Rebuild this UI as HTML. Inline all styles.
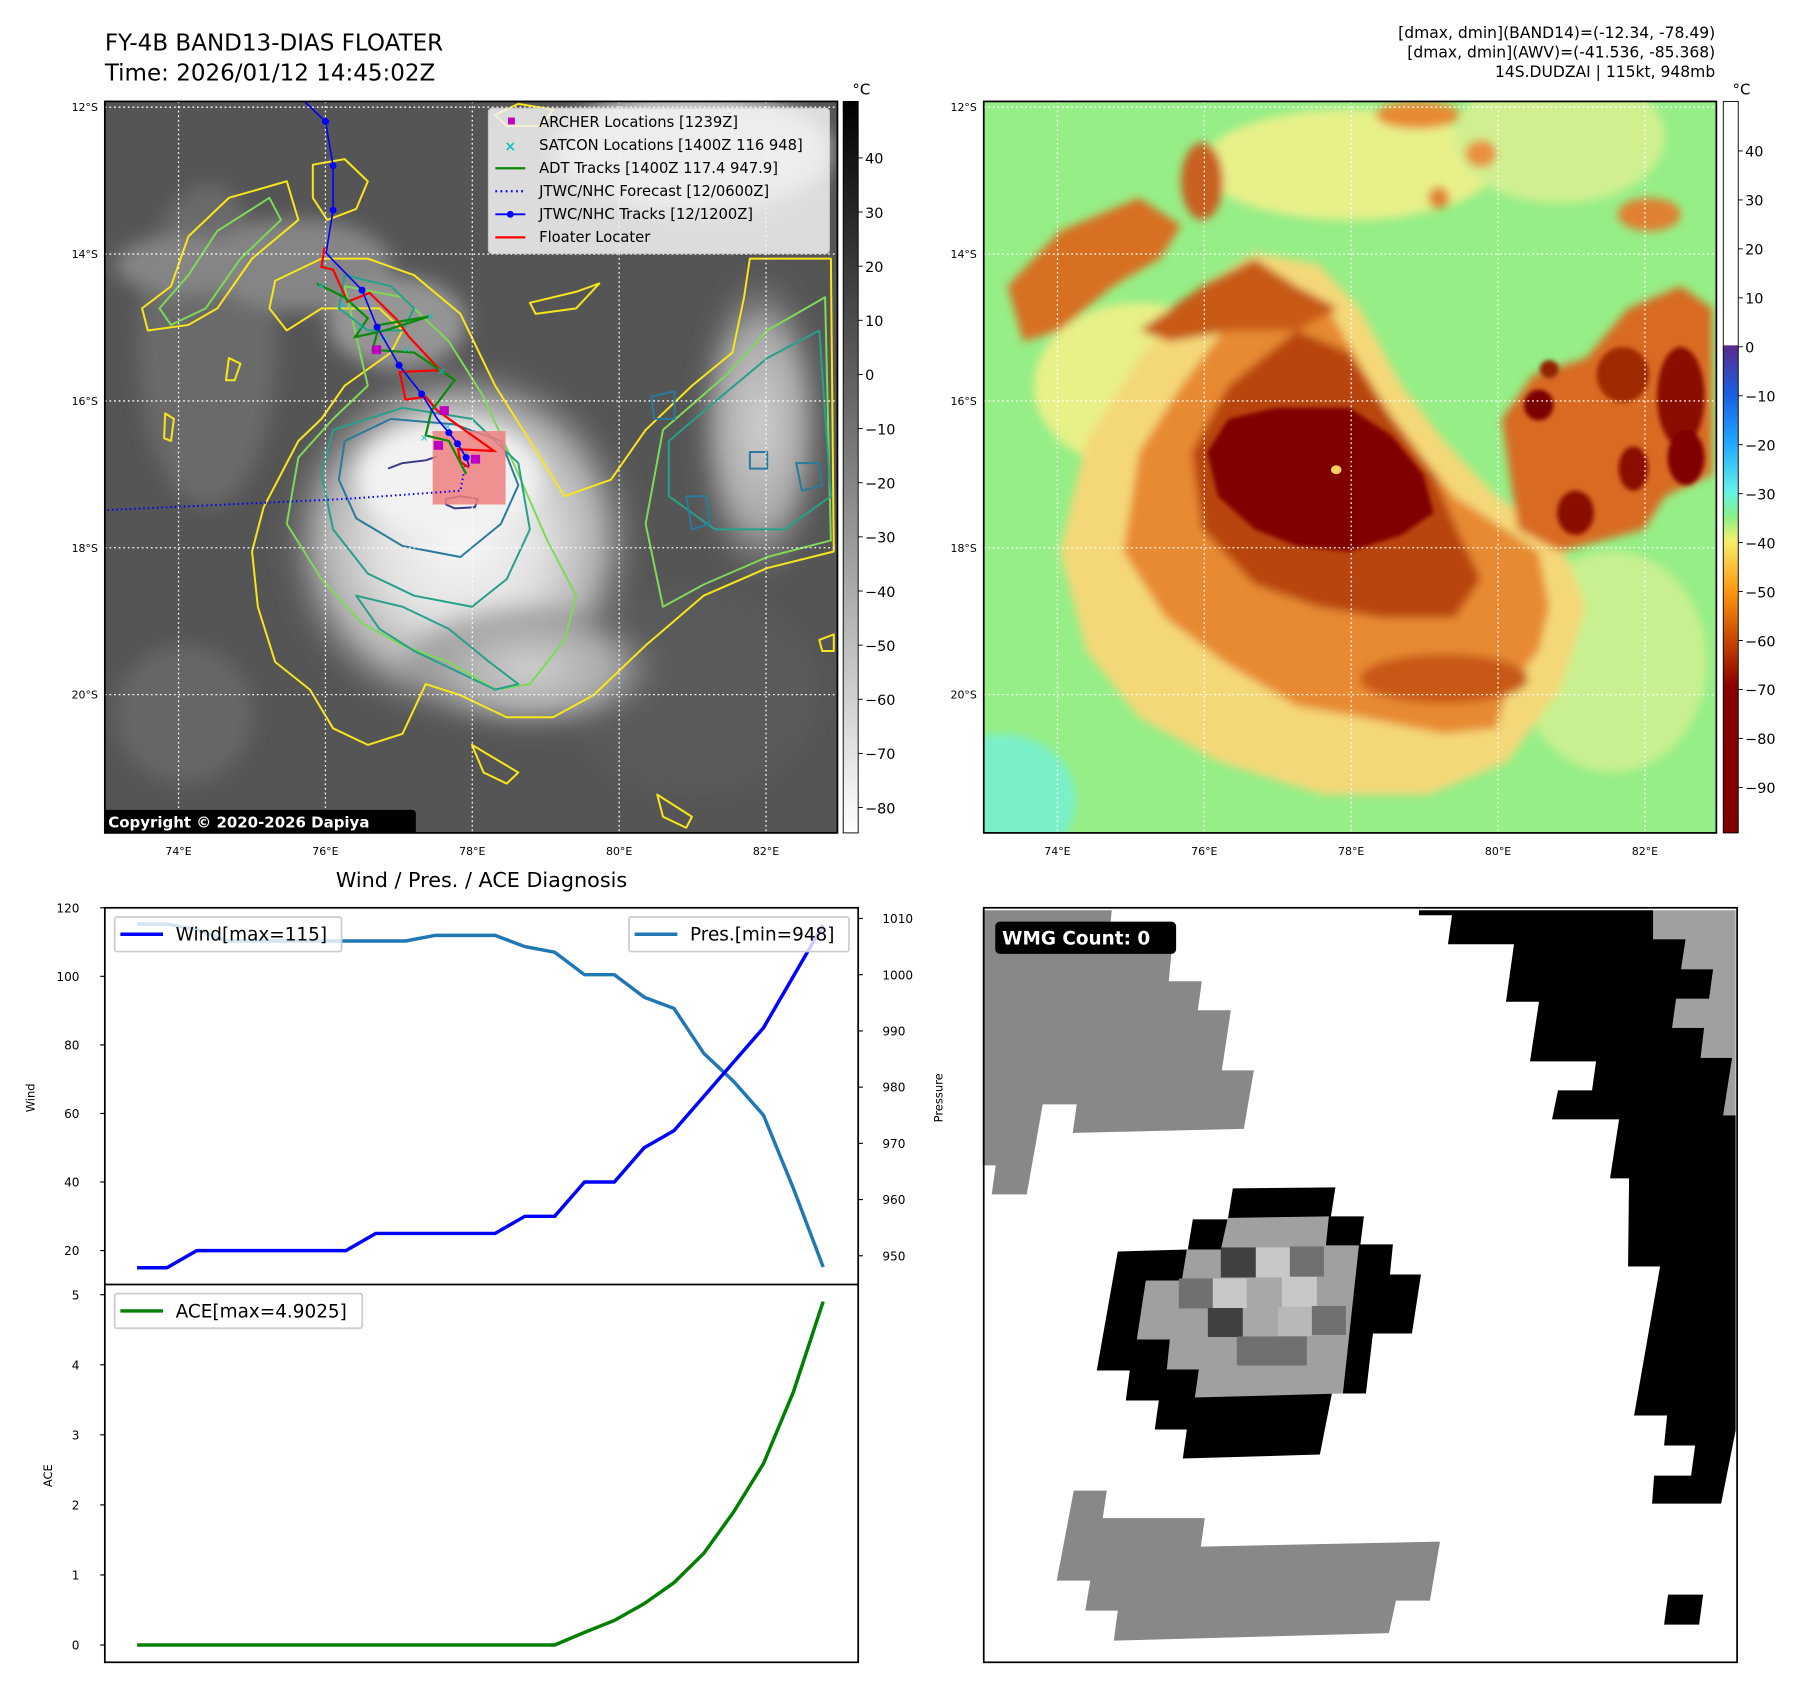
<!DOCTYPE html>
<html><head><meta charset="utf-8">
<style>
html,body{margin:0;padding:0;background:#fff;}
svg{display:block;font-family:"DejaVu Sans","Liberation Sans",sans-serif;}
.tk{font-size:10.5px;fill:#000;}
.ml{font-size:9.5px;fill:#000;}
</style></head>
<body>
<svg id="root" width="1797" height="1690" viewBox="0 0 1560 1467" xmlns="http://www.w3.org/2000/svg">
<defs>
  <radialGradient id="cyc" cx="0.5" cy="0.5" r="0.5">
    <stop offset="0" stop-color="#f8f8f8"/>
    <stop offset="0.45" stop-color="#e0e0e0"/>
    <stop offset="0.75" stop-color="#b0b0b0"/>
    <stop offset="1" stop-color="#6a6a6a" stop-opacity="0"/>
  </radialGradient>
  <radialGradient id="band" cx="0.5" cy="0.5" r="0.5">
    <stop offset="0" stop-color="#d0d0d0"/>
    <stop offset="0.6" stop-color="#a8a8a8"/>
    <stop offset="1" stop-color="#6a6a6a" stop-opacity="0"/>
  </radialGradient>
  <linearGradient id="cbL" x1="0" y1="1" x2="0" y2="0">
    <stop offset="0" stop-color="#ffffff"/>
    <stop offset="1" stop-color="#000000"/>
  </linearGradient>
  <linearGradient id="cbR" x1="0" y1="0" x2="0" y2="1">
    <stop offset="0" stop-color="#ffffff"/>
    <stop offset="0.333" stop-color="#ffffff"/>
    <stop offset="0.334" stop-color="#5a2a8a"/>
    <stop offset="0.40" stop-color="#1a5ee0"/>
    <stop offset="0.467" stop-color="#20a8ff"/>
    <stop offset="0.534" stop-color="#66f2e8"/>
    <stop offset="0.567" stop-color="#88f088"/>
    <stop offset="0.60" stop-color="#f4f070"/>
    <stop offset="0.667" stop-color="#ff9a10"/>
    <stop offset="0.734" stop-color="#c84a00"/>
    <stop offset="0.80" stop-color="#880000"/>
    <stop offset="1" stop-color="#800000"/>
  </linearGradient>
  <filter id="blur4"><feGaussianBlur stdDeviation="4"/></filter>
  <filter id="blur8"><feGaussianBlur stdDeviation="8"/></filter>
  <clipPath id="clipL"><rect x="91" y="88" width="636" height="635"/></clipPath>
  <clipPath id="clipR"><rect x="854" y="88" width="636" height="635"/></clipPath>
</defs>

<!-- Titles -->
<text x="91" y="44" font-size="20">FY-4B BAND13-DIAS FLOATER</text>
<text x="91" y="70" font-size="20">Time: 2026/01/12 14:45:02Z</text>
<g font-size="13.5" text-anchor="end">
  <text x="1489" y="33">[dmax, dmin](BAND14)=(-12.34, -78.49)</text>
  <text x="1489" y="50">[dmax, dmin](AWV)=(-41.536, -85.368)</text>
  <text x="1489" y="67">14S.DUDZAI | 115kt, 948mb</text>
</g>

<!-- LEFT MAP -->
<g id="leftmap" clip-path="url(#clipL)">
  <rect x="91" y="88" width="636" height="635" fill="#555"/>
  <g filter="url(#blur8)">
    <ellipse cx="180" cy="300" rx="60" ry="140" fill="#6a6a6a"/>
    <ellipse cx="620" cy="150" rx="100" ry="50" fill="#666"/>
    <ellipse cx="600" cy="600" rx="110" ry="90" fill="#5a5a5a"/>
    <ellipse cx="160" cy="620" rx="60" ry="60" fill="#666"/>
    <ellipse cx="260" cy="230" rx="80" ry="40" fill="#858585"/>
    <ellipse cx="160" cy="230" rx="60" ry="25" fill="#858585"/>
    <ellipse cx="345" cy="280" rx="60" ry="40" fill="#959595"/>
    <ellipse cx="400" cy="470" rx="160" ry="160" fill="url(#cyc)"/>
    <ellipse cx="460" cy="580" rx="120" ry="60" fill="url(#band)"/>
    <ellipse cx="660" cy="370" rx="60" ry="140" fill="url(#band)"/>
    <ellipse cx="390" cy="415" rx="80" ry="50" fill="#f2f2f2"/>
    <ellipse cx="600" cy="130" rx="120" ry="50" fill="#c8c8c8"/>
  </g>
  <g transform="translate(-2.3,-1) scale(0.5025,0.4797)" fill="none" stroke-width="2" stroke-linejoin="round">
    <g stroke="#f8e51c">
      <path vector-effect="non-scaling-stroke" d="M560,470 L640,470 720,500 800,570 860,700 920,800 980,900 1060,870 1120,780 1200,700 1270,640 1290,540 1300,470 1440,470 1445,1000 1330,1030 1220,1080 1120,1170 1030,1260 960,1300 880,1300 800,1260 740,1240 700,1330 640,1350 580,1320 540,1250 480,1200 450,1100 440,1000 460,920 520,800 560,760 600,700 680,640 700,600 660,560 610,560 560,560 500,600 470,560 480,510 Z"/>
      <path vector-effect="non-scaling-stroke" d="M250,560 L300,520 330,430 400,360 500,330 520,400 440,470 380,560 330,590 260,600 Z"/>
      <path vector-effect="non-scaling-stroke" d="M545,300 L600,290 640,330 620,380 570,400 545,360 Z"/>
      <path vector-effect="non-scaling-stroke" d="M400,650 L420,660 410,690 395,690 Z M290,750 L305,760 300,800 288,795 Z M820,1350 L900,1400 880,1420 840,1400 Z M1140,1440 L1200,1480 1190,1500 1150,1480 Z M920,550 L1000,530 1040,515 1000,560 930,570 Z M1420,1160 L1445,1150 1445,1180 1425,1180 Z M860,210 L900,190 960,200 940,230 880,230 Z"/>
    </g>
    <g stroke="#7ed957">
      <path vector-effect="non-scaling-stroke" d="M600,520 L700,540 780,620 840,720 900,860 950,980 1000,1080 980,1160 920,1240 860,1250 780,1200 700,1170 630,1130 560,1050 500,950 520,830 580,760 640,700 Z"/>
      <path vector-effect="non-scaling-stroke" d="M1150,780 L1260,680 1330,600 1430,540 1440,980 1330,1010 1220,1060 1150,1100 1120,950 Z"/>
      <path vector-effect="non-scaling-stroke" d="M280,560 L330,500 380,420 470,360 490,400 420,470 360,560 300,590 Z"/>
    </g>
    <g stroke="#27a08a">
      <path vector-effect="non-scaling-stroke" d="M580,780 L700,740 820,760 900,840 920,960 880,1050 820,1100 720,1080 640,1040 580,960 560,860 Z"/>
      <path vector-effect="non-scaling-stroke" d="M620,1080 L700,1100 780,1140 850,1200 900,1240 860,1250 800,1220 720,1180 660,1140 Z"/>
      <path vector-effect="non-scaling-stroke" d="M1160,800 L1250,720 1330,650 1420,600 1440,900 1360,960 1240,960 1160,900 Z"/>
      <path vector-effect="non-scaling-stroke" d="M600,500 L680,520 720,560 700,600 640,600 590,560 Z"/>
    </g>
    <g stroke="#2a7a9a">
      <path vector-effect="non-scaling-stroke" d="M600,800 L680,760 790,770 870,800 900,880 870,950 800,1010 700,990 620,940 590,870 Z"/>
      <path vector-effect="non-scaling-stroke" d="M1190,900 L1225,900 1230,950 1200,960 Z M1380,840 L1420,840 1425,880 1390,890 Z M1300,820 L1330,820 1330,850 1300,850 Z M1130,720 L1170,710 1170,760 1135,760 Z"/>
    </g>
    <g stroke="#3b3b8a">
      <path vector-effect="non-scaling-stroke" d="M675,850 L700,840 740,835 760,828 M775,905 L800,900 830,905 825,920 790,922 775,915 Z"/>
    </g>
  </g>
  <g id="gridL" stroke="#fff" stroke-width="1.1" stroke-dasharray="1.5,2.5"></g>
  <g transform="translate(-2.3,-1) scale(0.5025,0.4797)">
    <rect x="752" y="782" width="126" height="133" fill="#f08080" opacity="0.85"/>
    <polyline vector-effect="non-scaling-stroke" fill="none" stroke="#0000ff" stroke-width="2" stroke-dasharray="1.5,3" points="190,925 600,905 800,890 808,845"/>
    <polyline vector-effect="non-scaling-stroke" fill="none" stroke="#ff0000" stroke-width="2.2" points="565,450 560,485 580,490 605,548 643,532 690,580 710,610 765,672 695,675 705,725 740,720 760,745 858,818 796,815 800,838 815,848"/>
    <polyline vector-effect="non-scaling-stroke" fill="none" stroke="#0a8a0a" stroke-width="2.2" points="552,515 600,540 640,578 618,612 670,600 745,575 660,590 648,635 720,640 790,690 750,745 740,790 780,800 800,840 810,860"/>
    <g fill="#10c0c0" font-size="18">
      <text x="552" y="525">×</text><text x="590" y="560">×</text><text x="620" y="600">×</text><text x="660" y="620">×</text><text x="700" y="640">×</text><text x="740" y="580">×</text><text x="760" y="680">×</text><text x="730" y="800">×</text><text x="770" y="780">×</text><text x="800" y="830">×</text>
    </g>
    <g fill="#c000c0">
      <rect x="647" y="627" width="16" height="16"/><rect x="764" y="737" width="16" height="16"/><rect x="754" y="800" width="16" height="16"/><rect x="818" y="825" width="16" height="16"/>
    </g>
    <polyline vector-effect="non-scaling-stroke" fill="none" stroke="#0000ff" stroke-width="1.6" points="530,185 567,222 580,302 580,382 568,460 630,527 656,594 694,663 733,715 760,760 780,785 795,805 810,830 815,845"/>
    <g fill="#0000ff">
      <ellipse cx="567" cy="222" rx="6" ry="6.3"/><ellipse cx="580" cy="302" rx="6" ry="6.3"/><ellipse cx="580" cy="382" rx="6" ry="6.3"/><ellipse cx="630" cy="527" rx="6" ry="6.3"/><ellipse cx="656" cy="594" rx="6" ry="6.3"/><ellipse cx="694" cy="663" rx="6" ry="6.3"/><ellipse cx="733" cy="715" rx="6" ry="6.3"/><ellipse cx="780" cy="785" rx="6" ry="6.3"/><ellipse cx="795" cy="805" rx="6" ry="6.3"/><ellipse cx="810" cy="830" rx="6" ry="6.3"/>
    </g>
  </g>
  <g>
    <rect x="424" y="94" width="296" height="126" rx="3" fill="#f4f4f4" opacity="0.85" stroke="#ddd"/>
    <g font-size="12.8" fill="#000">
      <rect x="441" y="102" width="6" height="6" fill="#c000c0"/><text x="468" y="110">ARCHER Locations [1239Z]</text>
      <text x="438" y="131" fill="#10c0c0" font-size="12" font-weight="bold">×</text><text x="468" y="130">SATCON Locations [1400Z 116 948]</text>
      <line x1="430" y1="146" x2="456" y2="146" stroke="#0a8a0a" stroke-width="2"/><text x="468" y="150">ADT Tracks [1400Z 117.4 947.9]</text>
      <line x1="430" y1="166" x2="456" y2="166" stroke="#0000ff" stroke-width="2" stroke-dasharray="1.5,3"/><text x="468" y="170">JTWC/NHC Forecast [12/0600Z]</text>
      <line x1="430" y1="186" x2="456" y2="186" stroke="#0000ff" stroke-width="1.6"/><circle cx="443" cy="186" r="3" fill="#0000ff"/><text x="468" y="190">JTWC/NHC Tracks [12/1200Z]</text>
      <line x1="430" y1="206" x2="456" y2="206" stroke="#ff0000" stroke-width="2"/><text x="468" y="210">Floater Locater</text>
    </g>
  </g>
  <g>
    <rect x="89" y="703" width="272" height="21" rx="3" fill="#000"/>
    <text x="94" y="718.5" font-size="13" font-weight="bold" fill="#fff">Copyright © 2020-2026 Dapiya</text>
  </g>
</g>
<rect x="91" y="88" width="636" height="635" fill="none" stroke="#000" stroke-width="1.5"/>

<!-- RIGHT MAP -->
<g id="rightmap" clip-path="url(#clipR)">
  <rect x="854" y="88" width="636" height="635" fill="#96ee86"/>
  <g transform="translate(851.8,-1) scale(0.4566,0.4797)">
    <g filter="url(#blur8)">
      <ellipse cx="40" cy="1450" rx="140" ry="120" fill="#7af0c8"/>
      <ellipse cx="700" cy="300" rx="280" ry="100" fill="#e8f08a"/>
      <ellipse cx="1100" cy="250" rx="200" ry="120" fill="#d0f090"/>
      <ellipse cx="300" cy="700" rx="200" ry="150" fill="#e8f088"/>
      <ellipse cx="1200" cy="1200" rx="180" ry="200" fill="#c8f090"/>
      <path d="M150,1000 L200,800 300,650 420,520 520,460 640,480 720,560 800,700 880,800 980,900 1100,980 1150,1100 1100,1250 1000,1380 850,1440 650,1440 450,1380 300,1300 200,1180 Z" fill="#f4d878"/>
      <path d="M270,1000 L300,820 380,700 460,600 500,480 560,500 660,560 720,660 770,740 840,830 900,900 980,950 1060,1000 1080,1100 1060,1180 1000,1250 980,1320 880,1330 720,1300 600,1280 460,1200 350,1120 Z" fill="#e88a30"/>
      <path d="M990,760 L1050,680 1150,650 1230,560 1330,520 1390,560 1390,860 1300,900 1260,960 1180,980 1100,1000 1020,960 Z" fill="#d86a20"/>
      <path d="M50,520 L150,420 300,360 380,410 340,470 250,520 150,600 80,620 Z" fill="#d87020"/>
      <path d="M300,600 L420,520 520,470 600,520 680,560 600,600 480,600 360,620 Z" fill="#c85a18"/>
      <path d="M400,820 L470,700 600,600 700,640 780,760 860,860 900,950 950,1050 900,1120 760,1120 640,1100 520,1060 420,960 Z" fill="#b84410"/>
      <ellipse cx="420" cy="330" rx="40" ry="70" fill="#c86020"/>
      <ellipse cx="830" cy="210" rx="80" ry="25" fill="#e88a30"/>
      <ellipse cx="950" cy="280" rx="30" ry="25" fill="#e89040"/>
      <ellipse cx="1270" cy="390" rx="60" ry="30" fill="#e08030"/>
      <ellipse cx="870" cy="360" rx="20" ry="20" fill="#e08030"/>
      <ellipse cx="880" cy="1230" rx="160" ry="45" fill="#c85818"/>
    </g>
    <g filter="url(#blur4)">
      <path d="M430,820 L470,760 560,740 700,740 780,790 840,860 860,930 800,970 700,1000 600,990 520,960 450,900 Z" fill="#800000"/>
      <ellipse cx="1060" cy="735" rx="28" ry="28" fill="#7a0000"/>
      <ellipse cx="1330" cy="720" rx="45" ry="90" fill="#8a0a00"/>
      <ellipse cx="1340" cy="830" rx="35" ry="50" fill="#800000"/>
      <ellipse cx="1240" cy="850" rx="28" ry="40" fill="#8a0a00"/>
      <ellipse cx="1130" cy="930" rx="35" ry="40" fill="#8a1000"/>
      <ellipse cx="1220" cy="680" rx="50" ry="50" fill="#a02a00"/>
      <ellipse cx="1080" cy="670" rx="18" ry="16" fill="#902000"/>
    </g>
    <ellipse cx="675" cy="852" rx="10" ry="8" fill="#f8d060"/>
  </g>
  <g id="gridR" stroke="#fff" stroke-width="1.1" stroke-dasharray="1.5,2.5"></g>
</g>
<rect x="854" y="88" width="636" height="635" fill="none" stroke="#000" stroke-width="1.5"/>

<!-- Colorbars -->
<rect x="732" y="88" width="13" height="635" fill="url(#cbL)" stroke="#000" stroke-width="0.8"/>
<rect x="1496" y="88" width="13" height="635" fill="url(#cbR)" stroke="#000" stroke-width="0.8"/>
<text x="740" y="82" font-size="13">°C</text>
<text x="1504" y="82" font-size="13">°C</text>
<g id="cbticks"></g>
<g id="maplabels"></g>

<!-- Bottom-left chart -->
<text x="418" y="770" font-size="18" text-anchor="middle">Wind / Pres. / ACE Diagnosis</text>
<g id="chart"></g>

<!-- Bottom-right WMG -->
<g>
  <rect x="854" y="788" width="654" height="655" fill="#fff"/>
  <g transform="translate(853.1,785.8) scale(0.4343)">
    <path d="M0,10 L258,10 255,40 382,40 372,152 438,152 430,210 496,210 478,330 542,330 522,447 180,455 188,398 120,398 88,578 18,578 26,520 0,520 Z" fill="#888"/>
    <path d="M1340,10 L1505,10 1505,420 1480,420 1498,305 1435,305 1442,245 1378,245 1386,187 1452,187 1460,128 1396,128 1405,68 1340,68 Z" fill="#a0a0a0"/>
    <path d="M872,10 L1340,10 1340,68 1405,68 1396,128 1460,128 1452,187 1386,187 1378,245 1442,245 1435,305 1498,305 1480,420 1505,420 1505,1050 1476,1196 1338,1196 1342,1140 1416,1140 1424,1080 1362,1080 1368,1020 1302,1020 1354,722 1290,722 1292,546 1254,546 1272,428 1138,428 1150,370 1218,370 1226,312 1094,312 1112,193 1046,193 1062,78 930,78 938,20 872,20 Z" fill="#000"/>
    <path d="M1370,1378 L1440,1378 1432,1438 1362,1438 Z" fill="#000"/>
    <path d="M182,1170 L248,1170 240,1225 444,1225 436,1282 914,1272 894,1390 826,1390 812,1455 262,1470 270,1410 205,1410 215,1350 148,1350 Z" fill="#888"/>
    <path d="M500,566 L705,564 696,622 762,622 755,678 820,678 814,738 876,738 858,856 780,856 766,976 698,976 674,1098 400,1106 408,1048 344,1048 352,990 286,990 294,930 228,930 270,692 410,688 420,628 490,628 Z" fill="#000"/>
    <path d="M490,625 L692,622 686,680 752,680 720,976 424,984 432,928 368,928 374,868 308,868 326,750 398,750 408,688 476,688 Z" fill="#a0a0a0"/>
    <g>
      <rect x="476" y="684" width="70" height="60" fill="#404040"/>
      <rect x="546" y="684" width="68" height="60" fill="#c8c8c8"/>
      <rect x="614" y="682" width="68" height="60" fill="#707070"/>
      <rect x="392" y="746" width="68" height="60" fill="#707070"/>
      <rect x="460" y="746" width="68" height="60" fill="#c8c8c8"/>
      <rect x="528" y="745" width="70" height="60" fill="#a8a8a8"/>
      <rect x="598" y="743" width="70" height="60" fill="#c8c8c8"/>
      <rect x="450" y="805" width="70" height="58" fill="#404040"/>
      <rect x="520" y="805" width="70" height="58" fill="#a8a8a8"/>
      <rect x="590" y="803" width="68" height="58" fill="#b8b8b8"/>
      <rect x="658" y="801" width="68" height="58" fill="#707070"/>
      <rect x="508" y="862" width="140" height="58" fill="#707070"/>
    </g>
  </g>
  <rect x="854" y="788" width="654" height="655" fill="none" stroke="#000" stroke-width="1.5"/>
  <rect x="864" y="800" width="157" height="28" rx="4" fill="#000"/>
  <text x="870" y="820" font-size="16" font-weight="bold" fill="#fff">WMG Count: 0</text>
</g>

<script>
// ---- Chart data ----
const steps = [0,1,2,3,4,5,6,7,8,9,10,11,12,13,14,15,16,17,18,19,20,21,22,23];
const windValues = [15,15,20,20,20,20,20,20,25,25,25,25,25,30,30,40,40,50,55,65,75,85,100,115];
const pressureValues = [1009,1009,1008,1006,1006,1006,1006,1006,1006,1006,1007,1007,1007,1005,1004,1000,1000,996,994,986,981,975,962,948];
const aceValues = [0,0,0,0,0,0,0,0,0,0,0,0,0,0,0,0.18,0.35,0.59,0.89,1.31,1.90,2.59,3.61,4.9025];
const windTicks = [20,40,60,80,100,120];
const pressureTicks = [950,960,970,980,990,1000,1010];
const aceTicks = [0,1,2,3,4,5];
const lonTicks = [74,76,78,80,82];
const latTicks = [12,14,16,18,20];
const irBarTicks = [40,30,20,10,0,-10,-20,-30,-40,-50,-60,-70,-80];
const awvBarTicks = [40,30,20,10,0,-10,-20,-30,-40,-50,-60,-70,-80,-90];

const NS = 'http://www.w3.org/2000/svg';
function mk(tag, attrs, parent){const e=document.createElementNS(NS,tag);for(const k in attrs)e.setAttribute(k,attrs[k]);parent.appendChild(e);return e;}

const xStep = i => 119 + i*(595.6/23);
const yWind = w => 788 + (120-w)*2.976;
const yPres = p => 797.3 + (1010-p)*4.88;
const yAce = a => 1428 + (0 - a)*((1428-1123.9)/5);
const lonX = lon => 155 + (lon-74)*63.75;
const latY = lat => 93 + (lat-12)*63.75;

const gL=document.getElementById('gridL'), gR=document.getElementById('gridR'), ml=document.getElementById('maplabels');
[[gL,0],[gR,763]].forEach(([g,off])=>{
  lonTicks.forEach(l=>{const ln=mk('line',{x1:lonX(l)+off,y1:88,x2:lonX(l)+off,y2:723},g);
    
    
    const t=mk('text',{x:lonX(l)+off,y:742,'text-anchor':'middle',class:'ml'},ml);t.textContent=l+'°E';
    
    });
  latTicks.forEach(l=>{const ln=mk('line',{x1:91+off,y1:latY(l),x2:727+off,y2:latY(l)},g);
    
    
    const t=mk('text',{x:85+off,y:latY(l)+3.5,'text-anchor':'end',class:'ml'},ml);t.textContent=l+'°S';
    
    });
});
const cbt=document.getElementById('cbticks');
const cbL = v => 325 - v*4.7;
const cbR = v => 301 - v*4.25;
irBarTicks.forEach(v=>{mk('line',{x1:745,y1:cbL(v),x2:749,y2:cbL(v),stroke:'#000','stroke-width':0.8},cbt);
  const t=mk('text',{x:751,y:cbL(v)+5,'font-size':12.5},cbt);t.textContent=v<0?'\u2212'+(-v):v;
  
  });
awvBarTicks.forEach(v=>{mk('line',{x1:1509,y1:cbR(v),x2:1513,y2:cbR(v),stroke:'#000','stroke-width':0.8},cbt);
  const t=mk('text',{x:1515,y:cbR(v)+5,'font-size':12.5},cbt);t.textContent=v<0?'\u2212'+(-v):v;
  
  });

const ch=document.getElementById('chart');
mk('rect',{x:91,y:788,width:654,height:655,fill:'#fff'},ch);
windTicks.forEach(v=>{mk('line',{x1:87,y1:yWind(v),x2:91,y2:yWind(v),stroke:'#000'},ch);
  const t=mk('text',{x:69,y:yWind(v)+4,'text-anchor':'end',class:'tk'},ch);t.textContent=v;
  
  });
pressureTicks.forEach(v=>{mk('line',{x1:745,y1:yPres(v),x2:749,y2:yPres(v),stroke:'#000'},ch);
  const t=mk('text',{x:766,y:yPres(v)+4,class:'tk'},ch);t.textContent=v;
  
  });
aceTicks.forEach(v=>{mk('line',{x1:87,y1:yAce(v),x2:91,y2:yAce(v),stroke:'#000'},ch);
  const t=mk('text',{x:69,y:yAce(v)+4,'text-anchor':'end',class:'tk'},ch);t.textContent=v;
  
  });
function lbl(txt,x,y,name){const t=mk('text',{x:x,y:y,'font-size':10,'text-anchor':'middle',transform:`rotate(-90 ${x} ${y})`},ch);t.textContent=txt;
  
  }
lbl('Wind',30,953,'wind-axis-title');lbl('Pressure',818,953,'pressure-axis-title');lbl('ACE',45,1281,'ace-axis-title');

const pres=mk('polyline',{points:steps.map(i=>xStep(i)+','+yPres(pressureValues[i])).join(' '),fill:'none',stroke:'#1f77b4','stroke-width':3},ch);


const wind=mk('polyline',{points:steps.map(i=>xStep(i)+','+yWind(windValues[i])).join(' '),fill:'none',stroke:'#0000ff','stroke-width':3},ch);


const ace=mk('polyline',{points:steps.map(i=>xStep(i)+','+yAce(aceValues[i])).join(' '),fill:'none',stroke:'#008000','stroke-width':3},ch);



function legend(x,y,w,color,txt,name){const g=mk('g',{},ch);
  
  
  mk('rect',{x:x,y:y,width:w,height:30,rx:2,fill:'#fff','fill-opacity':0.8,stroke:'#ccc','stroke-width':1.5},g);
  mk('line',{x1:x+5,y1:y+15,x2:x+42,y2:y+15,stroke:color,'stroke-width':3},g);
  const t=mk('text',{x:x+53,y:y+20.5,'font-size':16},g);t.textContent=txt;}
legend(99.5,796,197,'#0000ff','Wind[max=115]','wind-legend');
legend(546,796,191,'#1f77b4','Pres.[min=948]','pressure-legend');
legend(99.5,1123,215,'#008000','ACE[max=4.9025]','ace-legend');
mk('rect',{x:91,y:788,width:654,height:655,fill:'none',stroke:'#000','stroke-width':1.5},ch);
mk('line',{x1:91,y1:1115,x2:745,y2:1115,stroke:'#000','stroke-width':1.5},ch);
</script>
</svg>
</body></html>
